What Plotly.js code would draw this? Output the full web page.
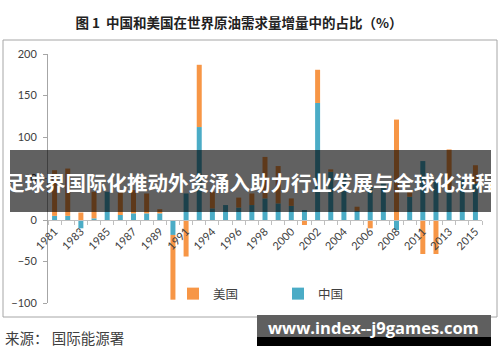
<!DOCTYPE html>
<html>
<head>
<meta charset="utf-8">
<script src="https://cdn.plot.ly/plotly-3.0.1.min.js"></script>
<style>html,body{margin:0;padding:0;background:#fff;}#chart{width:500px;height:362px;}</style>
</head>
<body>
<div id="chart"></div>
<script>
// Categories (years shown on the chart; 1993 and 2009 are absent)
const years = ['1981','1982','1983','1984','1985','1986','1987','1988','1989','1990','1991','1992',
  '1994','1995','1996','1997','1998','1999','2000','2001','2002','2003','2004','2005','2006','2007','2008',
  '2010','2011','2012','2013','2014','2015'];
// Tick labels (every other category)
const tickLabels = ['1981','','1983','','1985','','1987','','1989','','1991','',
  '1994','','1996','','1998','','2000','','2002','','2004','','2006','','2008',
  '','2011','','2013','','2015'];
// 中国 share (%)
const chinaShare = [5,5,-10,2,34,6,8,8,8,-18,32,112,
  14,18,15,18,26,20,17,12,141,58,56,11,40,44,-12,
  28,71,46,36,48,44];
// 美国 share (%)
const usShare = [55,57,9,32,0,30,28,24,5,-78,-44,75,
  20,0,12,14,50,45,9,-6,40,3,0,5,-10,0,121,
  8,-41,-41,49,0,22];

const orange = '#F79646';
const blue = '#4BACC6';

// plot area in pixels: x 48..482, y 54..303
const L = 48, R = 482, T = 54, B = 303;
const px = X => (X - L) / (R - L);
const py = Y => (B - Y) / (B - T);

const traces = [
  {type:'bar', name:'中国', x: years, y: chinaShare, marker:{color: blue}, hoverinfo:'x+y'},
  {type:'bar', name:'美国', x: years, y: usShare, marker:{color: orange}, hoverinfo:'x+y'}
];

const layout = {
  width: 500, height: 362,
  margin: {l: L, r: 500 - R, t: T, b: 362 - B},
  paper_bgcolor: '#fff', plot_bgcolor: 'rgba(0,0,0,0)',
  barmode: 'relative', bargap: 0.62,
  font: {family: 'Lato, "Noto Sans CJK SC", sans-serif', size: 11, color: '#404040'},
  title: {text: '图 1  中国和美国在世界原油需求量增量中的占比（%）', x: 0.478, xanchor: 'center',
    yref: 'container', y: 1 - 23/362, yanchor: 'middle',
    font: {family: '"Noto Sans CJK SC", sans-serif', size: 13.5, color: '#222', weight: 'bold'}},
  xaxis: {
    type: 'category', anchor: 'free', position: 1/3,
    tickmode: 'array', tickvals: years, ticktext: tickLabels,
    tickangle: -45, tickson: 'boundaries', ticks: 'outside', ticklen: 4,
    tickcolor: '#BFBFBF', showline: true, linecolor: '#BFBFBF', linewidth: 1,
    showgrid: false, zeroline: false, fixedrange: true,
    tickfont: {size: 11, color: '#404040'}
  },
  yaxis: {
    range: [-100, 200], tickvals: [-100,-50,0,50,100,150,200], ticks: 'outside', ticklen: 4,
    tickcolor: '#A6A6A6', showline: true, linecolor: '#A6A6A6', linewidth: 1,
    showgrid: false, zeroline: false, ticklabelstandoff: 4,
    tickfont: {size: 11, color: '#404040'}
  },
  showlegend: true,
  legend: {orientation: 'h', traceorder: 'reversed', x: px(173), y: py(294), yanchor: 'middle',
    xanchor: 'left', entrywidth: 60, entrywidthmode: 'pixels', bgcolor: 'rgba(0,0,0,0)',
    font: {size: 12.5, color: '#404040', family: '"Noto Sans CJK SC", sans-serif'}},
  shapes: [
    {type:'rect', xref:'paper', yref:'paper', x0: px(3), x1: px(497), y0: py(317), y1: py(40),
      line:{color:'#A6A6A6', width:1}, fillcolor:'rgba(0,0,0,0)', layer:'below'},
    {type:'rect', xref:'paper', yref:'paper', x0: px(10), x1: px(491), y0: py(212), y1: py(150),
      line:{width:0}, fillcolor:'rgba(0,0,0,0.62)', layer:'above'},
    {type:'rect', xref:'paper', yref:'paper', x0: px(257), x1: px(491), y0: py(337), y1: py(315),
      line:{width:0}, fillcolor:'#5f5f5f', layer:'above'},
    {type:'rect', xref:'paper', yref:'paper', x0: px(257), x1: px(491), y0: py(346), y1: py(337),
      line:{width:0}, fillcolor:'#000', layer:'above'}
  ],
  annotations: [
    {xref:'paper', yref:'paper', x: px(250), y: py(182), xanchor:'center', yanchor:'middle', showarrow:false,
      text:'足球界国际化推动外资涌入助力行业发展与全球化进程',
      font:{family:'"Noto Sans CJK SC", sans-serif', size: 20.5, color:'#fff', weight:'bold'}},
    {xref:'paper', yref:'paper', x: px(373), y: py(327), xanchor:'center', yanchor:'middle', showarrow:false,
      text:'www.index--j9games.com',
      font:{family:'"Open Sans", sans-serif', size: 16.5, color:'#fff', weight:'bold'}},
    {xref:'paper', yref:'paper', x: px(3), y: py(337), xanchor:'left', yanchor:'middle', showarrow:false,
      text:'来源： 国际能源署',
      font:{family:'"Noto Sans CJK SC", sans-serif', size: 14.5, color:'#404040'}}
  ]
};

Plotly.newPlot('chart', traces, layout, {staticPlot: true, displayModeBar: false});
</script>
</body>
</html>
